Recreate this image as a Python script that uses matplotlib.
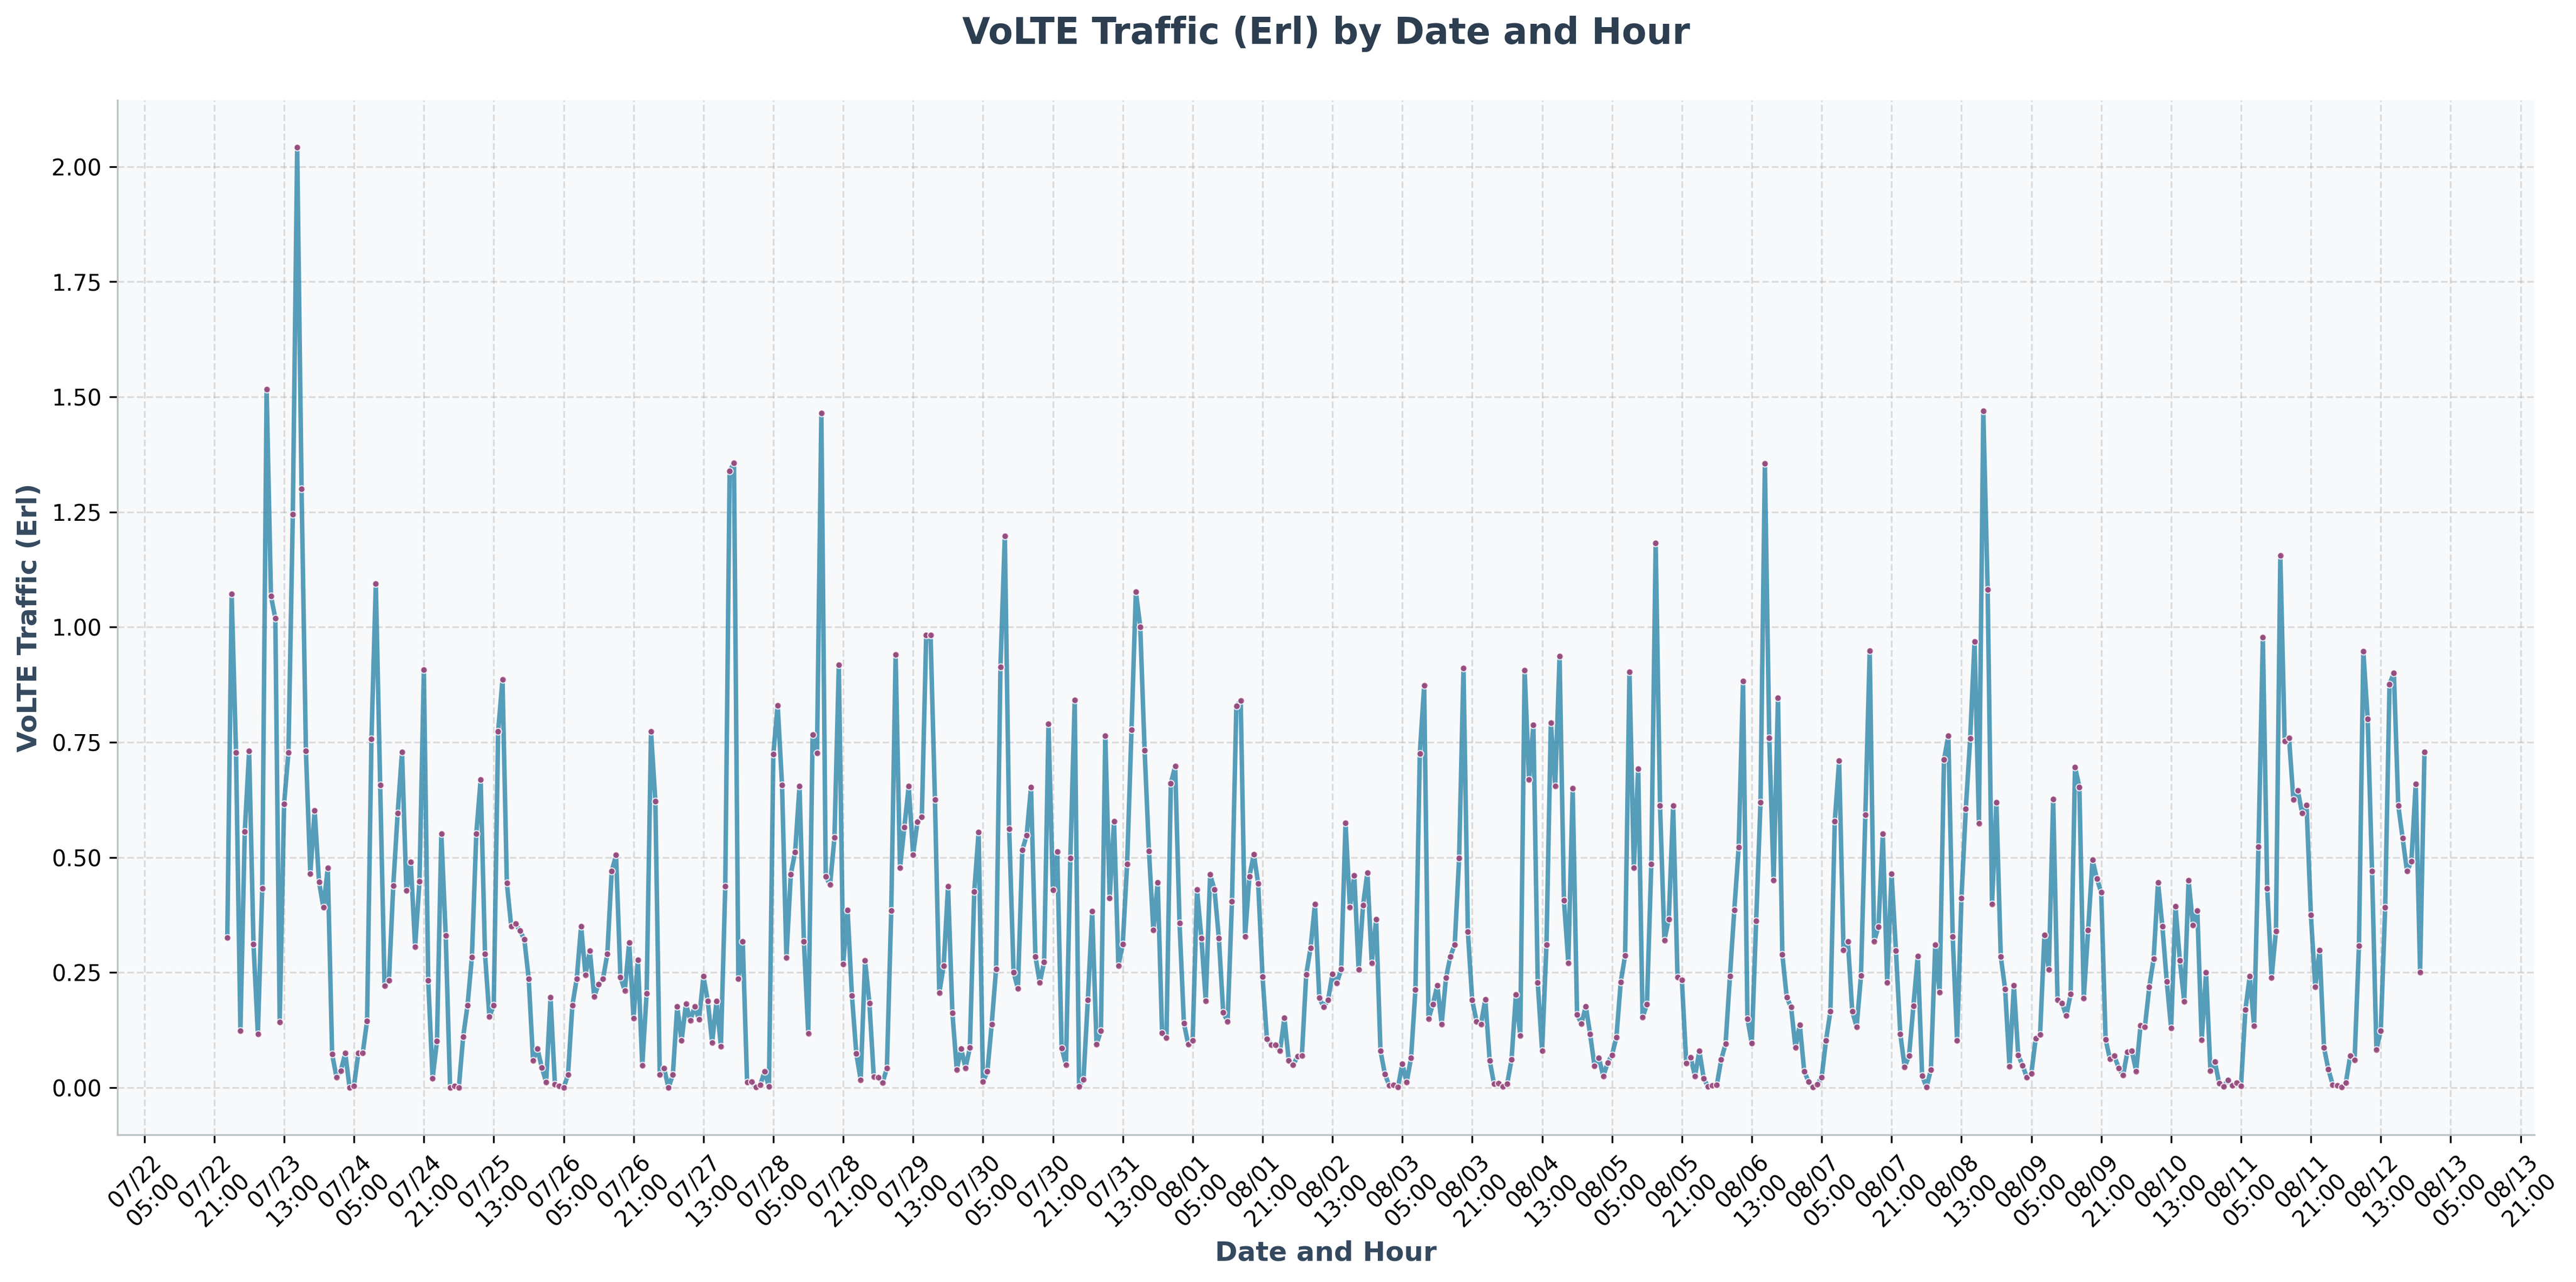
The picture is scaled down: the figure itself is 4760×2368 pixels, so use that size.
"""
VoLTE traffic per hour, values read off the reference picture
"""
import pandas as pd
import matplotlib
matplotlib.use('Agg')
import matplotlib.pyplot as plt
import matplotlib.dates as mdates

start = '2025-07-23 00:00'

traffic_jul = [
    0.326, 1.072, 0.728, 0.123, 0.556, 0.731, 0.312, 0.116, 0.433, 1.517, 1.067, 1.019,
    0.142, 0.616, 0.728, 1.245, 2.042, 1.300, 0.731, 0.464, 0.602, 0.447, 0.391, 0.477,
    0.073, 0.023, 0.037, 0.075, 0.000, 0.004, 0.075, 0.075, 0.145, 0.757, 1.094, 0.657,
    0.221, 0.233, 0.439, 0.596, 0.729, 0.428, 0.490, 0.306, 0.448, 0.908, 0.233, 0.020,
    0.101, 0.552, 0.331, 0.000, 0.004, 0.000, 0.111, 0.179, 0.284, 0.551, 0.669, 0.290,
    0.154, 0.179, 0.773, 0.886, 0.444, 0.350, 0.356, 0.341, 0.322, 0.237, 0.059, 0.085,
    0.044, 0.012, 0.196, 0.007, 0.004, 0.000, 0.028, 0.179, 0.237, 0.351, 0.245, 0.297,
    0.198, 0.225, 0.236, 0.290, 0.470, 0.505, 0.240, 0.211, 0.315, 0.151, 0.278, 0.048,
    0.205, 0.773, 0.622, 0.028, 0.042, 0.000, 0.028, 0.176, 0.102, 0.182, 0.146, 0.176,
    0.148, 0.242, 0.188, 0.098, 0.188, 0.090, 0.437, 1.339, 1.356, 0.236, 0.318, 0.012,
    0.013, 0.001, 0.006, 0.035, 0.002, 0.724, 0.830, 0.657, 0.282, 0.463, 0.512, 0.655,
    0.318, 0.118, 0.767, 0.726, 1.465, 0.458, 0.441, 0.543, 0.918, 0.268, 0.386, 0.200,
    0.074, 0.017, 0.276, 0.184, 0.024, 0.023, 0.011, 0.042, 0.385, 0.940, 0.477, 0.566,
    0.655, 0.506, 0.577, 0.588, 0.983, 0.983, 0.626, 0.206, 0.265, 0.437, 0.162, 0.039,
    0.085, 0.043, 0.087, 0.426, 0.555, 0.013, 0.035, 0.138, 0.258, 0.914, 1.198, 0.562,
    0.251, 0.215, 0.516, 0.548, 0.653, 0.285, 0.228, 0.273, 0.790, 0.429, 0.513, 0.086,
    0.050, 0.499, 0.842, 0.003, 0.018, 0.190, 0.383, 0.094, 0.124, 0.764, 0.411, 0.579,
    0.265, 0.312, 0.486, 0.777, 1.077, 1.001, 0.733, 0.514, 0.342, 0.446, 0.119, 0.108,
    0.661, 0.698, 0.357, 0.140, 0.094, 0.103, 0.430, 0.325, 0.188, 0.463, 0.430, 0.325,
    0.163, 0.144, 0.404, 0.829, 0.840, 0.328, 0.459, 0.507, 0.443, 0.241, 0.106, 0.093,
]
traffic_aug = [
    0.093, 0.080, 0.152, 0.059, 0.049, 0.068, 0.069, 0.246, 0.304, 0.399, 0.195, 0.175,
    0.190, 0.247, 0.227, 0.257, 0.575, 0.392, 0.461, 0.256, 0.396, 0.467, 0.271, 0.366,
    0.080, 0.030, 0.005, 0.006, 0.001, 0.052, 0.012, 0.065, 0.213, 0.725, 0.873, 0.150,
    0.181, 0.222, 0.138, 0.239, 0.285, 0.311, 0.498, 0.911, 0.339, 0.190, 0.144, 0.138,
    0.192, 0.059, 0.008, 0.010, 0.003, 0.008, 0.061, 0.202, 0.113, 0.906, 0.669, 0.788,
    0.228, 0.080, 0.310, 0.792, 0.655, 0.937, 0.407, 0.271, 0.650, 0.159, 0.139, 0.177,
    0.116, 0.047, 0.065, 0.025, 0.054, 0.071, 0.109, 0.229, 0.287, 0.903, 0.477, 0.693,
    0.153, 0.181, 0.486, 1.183, 0.612, 0.320, 0.366, 0.612, 0.240, 0.234, 0.053, 0.066,
    0.025, 0.080, 0.020, 0.002, 0.005, 0.006, 0.061, 0.095, 0.242, 0.386, 0.522, 0.883,
    0.150, 0.096, 0.362, 0.620, 1.355, 0.760, 0.450, 0.847, 0.289, 0.196, 0.175, 0.087,
    0.137, 0.036, 0.013, 0.001, 0.007, 0.023, 0.103, 0.166, 0.579, 0.710, 0.299, 0.318,
    0.166, 0.132, 0.243, 0.592, 0.949, 0.318, 0.349, 0.551, 0.228, 0.465, 0.298, 0.117,
    0.045, 0.069, 0.178, 0.286, 0.026, 0.001, 0.039, 0.310, 0.207, 0.712, 0.764, 0.328,
    0.102, 0.412, 0.606, 0.758, 0.969, 0.574, 1.470, 1.082, 0.399, 0.620, 0.285, 0.214,
    0.046, 0.222, 0.071, 0.048, 0.022, 0.031, 0.107, 0.115, 0.332, 0.256, 0.627, 0.191,
    0.184, 0.156, 0.203, 0.696, 0.653, 0.194, 0.342, 0.495, 0.454, 0.424, 0.105, 0.062,
    0.069, 0.043, 0.027, 0.078, 0.080, 0.036, 0.135, 0.132, 0.219, 0.280, 0.446, 0.350,
    0.231, 0.129, 0.394, 0.276, 0.187, 0.450, 0.353, 0.384, 0.104, 0.250, 0.037, 0.057,
    0.010, 0.002, 0.017, 0.005, 0.011, 0.004, 0.169, 0.242, 0.134, 0.523, 0.978, 0.433,
    0.239, 0.340, 1.155, 0.752, 0.759, 0.625, 0.645, 0.596, 0.614, 0.375, 0.219, 0.299,
    0.087, 0.040, 0.006, 0.005, 0.001, 0.011, 0.069, 0.060, 0.308, 0.948, 0.801, 0.470,
    0.083, 0.124, 0.391, 0.876, 0.901, 0.613, 0.542, 0.470, 0.491, 0.660, 0.251, 0.729,
]
traffic = traffic_jul + traffic_aug

dates = pd.date_range(start, periods=len(traffic), freq='h')
x_ticks = pd.date_range('2025-07-22 05:00', periods=35, freq='16h')
y_ticks = [0.0, 0.25, 0.5, 0.75, 1.0, 1.25, 1.5, 1.75, 2.0]

W, H = 4760, 2368
fig = plt.figure(figsize=(W / 300, H / 300), dpi=300)
ax = fig.add_axes([217 / W, 1 - 2096 / H, (4683 - 217) / W, (2096 - 185) / H])

# line and markers share one alpha, the purple dots look washed out in the original
ax.plot(dates, traffic, color='#2E86AB', linewidth=2, alpha=0.8, marker='o', markersize=3,
        markerfacecolor='#A23B72', markeredgecolor='white', markeredgewidth=0.5, zorder=3)

ax.set_facecolor('#F8F9FA')
ax.set_xticks(x_ticks)
ax.xaxis.set_major_formatter(mdates.DateFormatter('%m/%d\n%H:%M'))
ax.set_yticks(y_ticks)
ax.tick_params(axis='both', labelsize=10)
plt.setp(ax.get_xticklabels(), rotation=45, ha='center', rotation_mode='default')
ax.grid(True, alpha=0.4, linestyle='--', color='#B0B0B0', zorder=0)
ax.set_axisbelow(True)

ax.spines['top'].set_visible(False)
ax.spines['right'].set_visible(False)
ax.spines['left'].set_color('#BDC3C7')
ax.spines['bottom'].set_color('#BDC3C7')

ax.set_title('VoLTE Traffic (Erl) by Date and Hour', fontsize=16, fontweight='bold',
             color='#2C3E50', pad=25)
ax.set_xlabel('Date and Hour', fontsize=12, fontweight='bold', color='#34495E')
ax.set_ylabel('VoLTE Traffic (Erl)', fontsize=12, fontweight='bold', color='#34495E')

fig.savefig('out.png', dpi=300)
